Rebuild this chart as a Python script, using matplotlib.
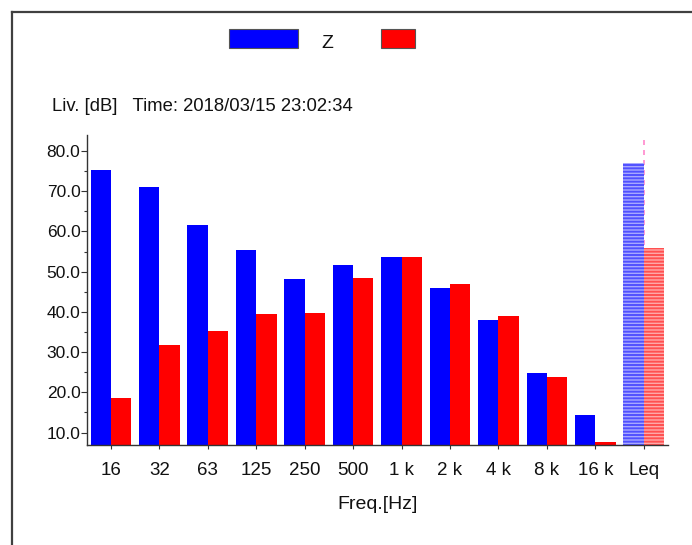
#!/usr/bin/env python3
#
#   Octave band spectrum plot (Z weighted level per band + Leq)
#

import numpy as np
from matplotlib import pyplot as plt
from matplotlib.lines import Line2D
from matplotlib.patches import Rectangle
import matplotlib.ticker as ticker

BANDS = ["16", "32", "63", "125", "250", "500", "1 k", "2 k", "4 k", "8 k", "16 k", "Leq"]
LEVEL_BLUE = [75.3, 71.0, 61.6, 55.4, 48.2, 51.7, 53.7, 46.0, 38.0, 24.8, 14.3, 77.0]
LEVEL_RED = [18.7, 31.8, 35.3, 39.5, 39.7, 48.4, 53.7, 46.9, 39.0, 23.8, 7.7, 55.9]

TITLE = "Liv. [dB]   Time: 2018/03/15 23:02:34"
LEGEND_LABEL = "Z"
X_LABEL = "Freq.[Hz]"

BLUE = "#0000ff"
RED = "#ff0000"
FONT = "Liberation Sans"


def draw_frame(fig):
    """
    Draws the panel border, legend boxes and header text in figure coords
    """
    edge = "#404040"
    fig.add_artist(Line2D([12 / 692, 1], [1 - 12 / 545] * 2, color=edge, lw=1.6))
    fig.add_artist(Line2D([12 / 692] * 2, [0, 1 - 12 / 545], color=edge, lw=1.6))

    fig.add_artist(Rectangle((229 / 692, 1 - 48 / 545), 69 / 692, 19 / 545,
                             facecolor=BLUE, edgecolor="#555555", lw=0.8))
    fig.add_artist(Rectangle((381 / 692, 1 - 48 / 545), 34 / 692, 19 / 545,
                             facecolor=RED, edgecolor="#555555", lw=0.8))
    fig.text(327 / 692, 1 - 47.5 / 545, LEGEND_LABEL, ha="center", va="baseline",
             fontsize=14, family=FONT, color="#111111")
    fig.text(52 / 692, 1 - 111 / 545, TITLE, ha="left", va="baseline",
             fontsize=13.3, family=FONT, color="#111111")


def draw_bars(ax):
    """
    Draws the paired bars; the last (Leq) pair is drawn hatched
    """
    x = np.arange(len(BANDS))
    width = 0.42
    n = len(BANDS) - 1

    ax.axvline(x[-1], color="#ff88cc", lw=1.2, ls=(0, (3, 3)), zorder=0.5)

    ax.bar(x[:n] - width / 2, LEVEL_BLUE[:n], width, bottom=0, color=BLUE, zorder=2)
    ax.bar(x[:n] + width / 2, LEVEL_RED[:n], width, bottom=0, color=RED, zorder=2)

    plt.rcParams["hatch.linewidth"] = 1.4
    ax.bar(x[n] - width / 2, LEVEL_BLUE[n], width, facecolor="#a8a8ff",
           edgecolor="#5050ff", hatch="-----", lw=0, zorder=2)
    ax.bar(x[n] + width / 2, LEVEL_RED[n], width, facecolor="#ffa8a8",
           edgecolor="#ff5050", hatch="-----", lw=0, zorder=2)

    ax.set_xticks(x)
    ax.set_xticklabels(BANDS, family=FONT, fontsize=13.5, color="#111111")
    ax.set_xlim(-0.5, len(BANDS) - 0.5)


def style_axes(ax):
    ax.set_ylim(6.9, 84)
    ax.yaxis.set_major_locator(ticker.MultipleLocator(10))
    ax.yaxis.set_minor_locator(ticker.MultipleLocator(5))
    ax.yaxis.set_major_formatter(ticker.FuncFormatter(lambda y, pos: "{:.1f}".format(y)))
    for lab in ax.get_yticklabels():
        lab.set_family(FONT)
        lab.set_fontsize(12.5)
        lab.set_color("#111111")

    for side in ("top", "right"):
        ax.spines[side].set_visible(False)
    for side in ("left", "bottom"):
        ax.spines[side].set_color("#333333")
        ax.spines[side].set_linewidth(1.0)

    ax.tick_params(axis="y", which="major", length=4, width=0.8, color="#333333", pad=0.5)
    ax.tick_params(axis="y", which="minor", length=2, width=0.8, color="#333333")
    ax.tick_params(axis="x", which="major", length=3, width=0.8, color="#333333", pad=9)

    ax.set_xlabel(X_LABEL, family=FONT, fontsize=14, labelpad=12.5, color="#111111")


def main():
    fig = plt.figure(figsize=(6.92, 5.45), dpi=100)
    ax = fig.add_axes([86.7 / 692, 1 - 445 / 545, (668 - 86.7) / 692, (445 - 135) / 545])

    draw_bars(ax)
    style_axes(ax)
    draw_frame(fig)

    plt.savefig("out.png", dpi=100)


if __name__ == "__main__":
    main()
